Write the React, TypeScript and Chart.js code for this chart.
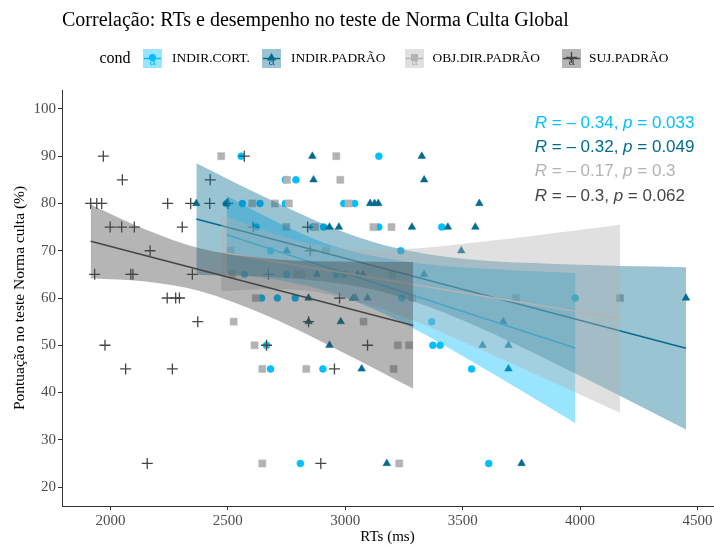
import React, { useEffect, useRef } from 'react';
import { Chart, registerables } from 'chart.js';

Chart.register(...registerables);

// ---------- text ----------
const TITLE = 'Correlação: RTs e desempenho no teste de Norma Culta Global';
const LEGEND_TITLE = 'cond';
const X_TITLE = 'RTs (ms)';
const Y_TITLE = 'Pontuação no teste Norma culta (%)';

const groups = ['INDIR.CORT.', 'INDIR.PADRÃO', 'OBJ.DIR.PADRÃO', 'SUJ.PADRÃO'];
const colors = ['#00BFFF', '#036B8E', '#B3B3B3', '#464646'];
const bandColors = ['rgba(0,191,255,0.4)', 'rgba(3,107,142,0.4)', 'rgba(177,177,177,0.4)', 'rgba(70,70,70,0.4)'];
const pointStyles = ['circle', 'triangle', 'rect', 'cross'];

// ---------- axis ----------
const xMin = 1794;
const xMax = 4566;
const xTicks = [2000, 2500, 3000, 3500, 4000, 4500];
const yMin = 16;
const yMax = 104;
const yTicks = [20, 30, 40, 50, 60, 70, 80, 90, 100];

// ---------- points ----------
const cortRT = [2557, 3143, 2745, 2790, 2495, 2562, 2637, 2745, 2994, 3040, 2621, 2861, 2908, 3143, 3411, 2682, 3237, 2571, 2751, 2962, 2997, 2644, 2711, 2787, 3241, 3979, 3368, 2665, 3373, 3404, 2682, 2905, 3538, 2809, 3611];
const cortScore = [90, 90, 85, 85, 80, 80, 80, 80, 80, 80, 75, 75, 75, 75, 75, 70, 70, 65, 65, 65, 65, 60, 60, 60, 60, 60, 55, 50, 50, 50, 45, 45, 45, 25, 25];

const padRT = [2860, 3326, 2865, 3336, 2366, 2495, 3106, 3125, 3141, 3571, 2933, 2973, 3284, 3437, 3554, 2751, 3494, 2879, 3053, 3076, 3336, 2844, 3033, 3043, 3095, 4451, 2844, 2981, 3673, 2933, 3585, 3695, 3070, 3695, 3177, 3751];
const padScore = [90, 90, 85, 85, 80, 80, 80, 80, 80, 80, 75, 75, 75, 75, 75, 70, 70, 65, 65, 65, 65, 60, 60, 60, 60, 60, 55, 55, 55, 50, 50, 50, 45, 45, 25, 25];

const objRT = [2472, 2962, 2752, 2979, 2604, 2701, 2760, 3014, 2749, 2872, 3120, 3197, 2512, 2918, 2519, 2794, 2813, 3201, 2619, 3286, 3728, 4170, 2525, 3078, 2614, 3224, 3272, 2647, 2834, 3206, 2647, 3230];
const objScore = [90, 90, 85, 85, 80, 80, 80, 80, 75, 75, 75, 75, 70, 70, 65, 65, 65, 65, 60, 60, 60, 60, 55, 55, 50, 50, 50, 45, 45, 45, 25, 25];

const sujRT = [1970, 2570, 2051, 2425, 1916, 1942, 1963, 2244, 2342, 2423, 2500, 1999, 2048, 2102, 2306, 2608, 2840, 2169, 2851, 1933, 2087, 2096, 2349, 2673, 2242, 2278, 2294, 2976, 2372, 2844, 1977, 2665, 3095, 2065, 2264, 2954, 2157, 2896];
const sujScore = [90, 90, 85, 85, 80, 80, 80, 80, 80, 80, 80, 75, 75, 75, 75, 75, 75, 70, 70, 65, 65, 65, 65, 65, 60, 60, 60, 60, 55, 55, 50, 50, 50, 45, 45, 45, 25, 25];

// ---------- fitted lines and confidence bands ----------
const cortFitX = [2495, 3980];
const cortFitY = [73.4, 49.4];
const cortBandX = [2495, 2700, 2950, 3250, 3600, 3980];
const cortBandLow = [65.2, 63.9, 61.0, 54.6, 44.8, 33.5];
const cortBandHigh = [81.6, 76.3, 71.0, 67.8, 66.2, 65.3];

const padFitX = [2366, 4451];
const padFitY = [76.7, 49.35];
const padBandX = [2366, 2650, 2950, 3180, 3500, 3900, 4451];
const padBandLow = [64.9, 64.5, 63.2, 61.0, 55.3, 46.0, 32.2];
const padBandHigh = [88.5, 81.5, 74.8, 71.0, 68.3, 67.2, 66.5];

const objFitX = [2472, 4170];
const objFitY = [69.6, 55.6];
const objBandX = [2472, 2700, 2900, 3200, 3600, 4170];
const objBandLow = [61.45, 61.9, 61.07, 56.9, 48.6, 35.7];
const objBandHigh = [77.75, 73.5, 71.07, 70.3, 72.0, 75.5];

const sujFitX = [1916, 3290];
const sujFitY = [72.0, 54.2];
const sujBandX = [1916, 2150, 2380, 2650, 2950, 3290];
const sujBandLow = [64.2, 63.5, 61.5, 56.6, 49.5, 40.8];
const sujBandHigh = [79.8, 74.5, 70.5, 68.4, 67.7, 67.6];

// ---------- correlation labels ----------
const corR = ['0.34', '0.32', '0.17', '0.3'];
const corP = ['0.033', '0.049', '0.3', '0.062'];
const corLabelX = 3807;
const corLabelY = [96.94, 91.83, 86.72, 81.61];

const pointSets = [
  [cortRT, cortScore],
  [padRT, padScore],
  [objRT, objScore],
  [sujRT, sujScore],
];
const fits = [
  [cortFitX, cortFitY, cortBandX, cortBandLow, cortBandHigh],
  [padFitX, padFitY, padBandX, padBandLow, padBandHigh],
  [objFitX, objFitY, objBandX, objBandLow, objBandHigh],
  [sujFitX, sujFitY, sujBandX, sujBandLow, sujBandHigh],
];

const SERIF = '"Liberation Serif", "Times New Roman", serif';
const SANS = '"Liberation Sans", Arial, sans-serif';

function zip(xs: number[], ys: number[]) {
  return xs.map((x, i) => ({ x, y: ys[i] }));
}

function drawShape(ctx: CanvasRenderingContext2D, style: string, x: number, y: number, color: string) {
  ctx.save();
  ctx.fillStyle = color;
  ctx.strokeStyle = color;
  ctx.beginPath();
  if (style === 'circle') {
    ctx.arc(x, y, 3.5, 0, Math.PI * 2);
    ctx.fill();
  } else if (style === 'triangle') {
    ctx.moveTo(x, y - 4.5);
    ctx.lineTo(x + 4.5, y + 3);
    ctx.lineTo(x - 4.5, y + 3);
    ctx.closePath();
    ctx.fill();
  } else if (style === 'rect') {
    ctx.rect(x - 3.5, y - 3.5, 7, 7);
    ctx.fill();
  } else {
    ctx.lineWidth = 1.3;
    ctx.moveTo(x - 5.5, y);
    ctx.lineTo(x + 5.5, y);
    ctx.moveTo(x, y - 5.5);
    ctx.lineTo(x, y + 5.5);
    ctx.stroke();
  }
  ctx.restore();
}

const overlayPlugin = {
  id: 'overlay',
  afterDatasetsDraw(chart: any) {
    const ctx: CanvasRenderingContext2D = chart.ctx;
    const xs = chart.scales.x;
    const ys = chart.scales.y;
    ctx.save();
    ctx.textBaseline = 'middle';
    ctx.textAlign = 'left';
    corR.forEach((r, i) => {
      let px = xs.getPixelForValue(corLabelX);
      const py = ys.getPixelForValue(corLabelY[i]);
      ctx.fillStyle = colors[i];
      const parts: [string, boolean][] = [
        ['R', true],
        [' = – ' + r + ', ', false],
        ['p', true],
        [' = ' + corP[i], false],
      ];
      for (const [t, it] of parts) {
        ctx.font = (it ? 'italic ' : '') + '17px ' + SANS;
        ctx.fillText(t, px, py);
        px += ctx.measureText(t).width;
      }
    });
    ctx.restore();
  },
  afterDraw(chart: any) {
    const ctx: CanvasRenderingContext2D = chart.ctx;
    ctx.save();
    ctx.textBaseline = 'middle';
    ctx.textAlign = 'left';
    ctx.fillStyle = '#000';
    ctx.font = '20px ' + SERIF;
    ctx.fillText(TITLE, 62, 21);

    const ly = 58.5;
    ctx.font = '16px ' + SERIF;
    ctx.fillText(LEGEND_TITLE, 99.5, ly);
    const keyX = [143, 262, 405, 562];
    const textX = [172, 291, 432.5, 589];
    groups.forEach((g, i) => {
      const kx = keyX[i];
      ctx.fillStyle = bandColors[i];
      ctx.fillRect(kx, ly - 9.5, 19, 19);
      ctx.strokeStyle = colors[i];
      ctx.lineWidth = 1.5;
      ctx.beginPath();
      ctx.moveTo(kx + 1, ly);
      ctx.lineTo(kx + 18, ly);
      ctx.stroke();
      ctx.fillStyle = colors[i];
      ctx.font = '11px ' + SANS;
      ctx.textAlign = 'center';
      ctx.fillText('a', kx + 9.5, ly + 3);
      ctx.textAlign = 'left';
      drawShape(ctx, pointStyles[i], kx + 9.5, ly - 1, colors[i]);
      ctx.fillStyle = '#000';
      ctx.font = '13.4px ' + SERIF;
      ctx.fillText(g, textX[i], ly);
    });
    ctx.restore();
  },
};

export default function App() {
  const ref = useRef<HTMLCanvasElement>(null);

  useEffect(() => {
    const canvas = ref.current;
    if (!canvas) return;

    const seq: any[] = [];
    pointSets.forEach(([xsArr, ysArr], i) => {
      const st = pointStyles[i];
      seq.push({
        type: 'scatter',
        label: groups[i],
        data: zip(xsArr, ysArr),
        pointStyle: st,
        pointRadius: st === 'circle' ? 3.5 : st === 'triangle' ? 4.4 : st === 'rect' ? 5 : 5.5,
        backgroundColor: colors[i],
        borderColor: colors[i],
        borderWidth: st === 'cross' ? 1.3 : 0.5,
        showLine: false,
      });
    });
    fits.forEach(([fx, fy, bx, bl, bh], i) => {
      seq.push({
        type: 'line',
        label: groups[i] + ' low',
        data: zip(bx, bl),
        borderColor: 'rgba(0,0,0,0)',
        borderWidth: 0,
        pointRadius: 0,
        fill: false,
        cubicInterpolationMode: 'monotone',
      });
      seq.push({
        type: 'line',
        label: groups[i] + ' high',
        data: zip(bx, bh),
        borderColor: 'rgba(0,0,0,0)',
        borderWidth: 0,
        pointRadius: 0,
        fill: '-1',
        backgroundColor: bandColors[i],
        cubicInterpolationMode: 'monotone',
      });
      seq.push({
        type: 'line',
        label: groups[i] + ' fit',
        data: zip(fx, fy),
        borderColor: colors[i],
        borderWidth: 1.6,
        pointRadius: 0,
        fill: false,
        tension: 0,
      });
    });
    const n = seq.length;
    seq.forEach((d, i) => (d.order = n - i));

    const chart = new Chart(canvas, {
      type: 'scatter',
      data: { datasets: seq },
      options: {
        animation: false,
        responsive: false,
        devicePixelRatio: 1,
        events: [],
        layout: { autoPadding: false, padding: { top: 90, right: 1, left: 0, bottom: 0 } },
        plugins: {
          legend: { display: false },
          title: { display: false },
          tooltip: { enabled: false },
          filler: { propagate: false, drawTime: 'beforeDatasetDraw' },
        } as any,
        scales: {
          x: {
            type: 'linear',
            min: xMin,
            max: xMax,
            afterBuildTicks: (s: any) => { s.ticks = xTicks.map((v) => ({ value: v })); },
            ticks: {
              color: '#4d4d4d',
              font: { family: SERIF, size: 15 },
              padding: 2,
              maxRotation: 0,
              autoSkip: false,
              callback: (v: any) => String(v),
            },
            grid: { display: true, drawOnChartArea: false, drawTicks: true, tickLength: 4, color: '#333' },
            border: { display: true, color: '#333', width: 1 },
            title: { display: true, text: X_TITLE, color: '#000', font: { family: SERIF, size: 15 }, padding: { top: 0, bottom: 0 } },
            afterFit: (s: any) => { s.height = 40; s.paddingLeft = 0; s.paddingRight = 0; },
          },
          y: {
            type: 'linear',
            min: yMin,
            max: yMax,
            afterBuildTicks: (s: any) => { s.ticks = yTicks.map((v) => ({ value: v })); },
            ticks: {
              color: '#4d4d4d',
              font: { family: SERIF, size: 15 },
              padding: 2,
              autoSkip: false,
              callback: (v: any) => String(v),
            },
            grid: { display: true, drawOnChartArea: false, drawTicks: true, tickLength: 4, color: '#333' },
            border: { display: true, color: '#333', width: 1 },
            title: { display: true, text: Y_TITLE, color: '#000', font: { family: SERIF, size: 15.5 }, padding: { top: 11, bottom: 0 } },
            afterFit: (s: any) => { s.width = 62; s.paddingTop = 0; s.paddingBottom = 0; },
          },
        },
      } as any,
      plugins: [overlayPlugin],
    });
    return () => chart.destroy();
  }, []);

  return (
    <div style={{ position: 'absolute', left: 0, top: 0, width: 714, height: 546, background: '#fff' }}>
      <canvas ref={ref} width={714} height={546} style={{ display: 'block' }} />
    </div>
  );
}
